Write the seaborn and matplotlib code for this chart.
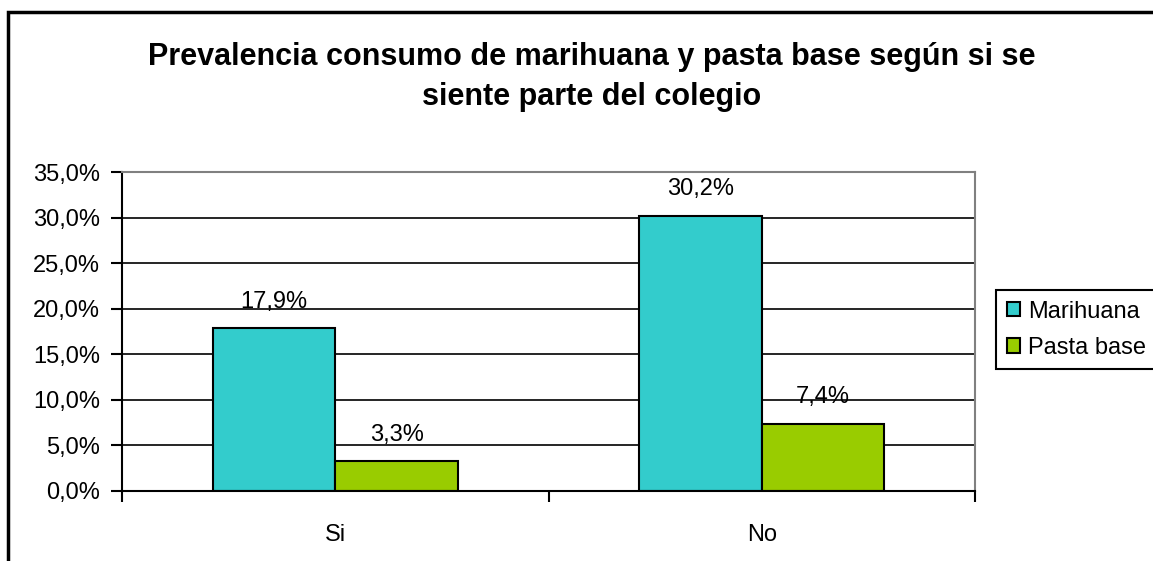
import pandas as pd
import matplotlib
matplotlib.use("Agg")
import matplotlib.pyplot as plt
import seaborn as sns
from matplotlib.patches import Rectangle

categorias = ["Si", "No"]
series = ["Marihuana", "Pasta base"]
marihuana = [17.9, 30.2]
pasta_base = [3.3, 7.4]
colores = ["#33CCCC", "#99CC00"]
titulo = "Prevalencia consumo de marihuana y pasta base según si se\nsiente parte del colegio"

df = pd.DataFrame({
    "categoria": categorias * 2,
    "serie": [series[0]] * 2 + [series[1]] * 2,
    "valor": marihuana + pasta_base,
})

sns.set_style("white")
plt.rcParams["font.family"] = ["Liberation Sans", "DejaVu Sans"]
plt.rcParams["text.color"] = "black"
plt.rcParams["xtick.color"] = "black"
plt.rcParams["ytick.color"] = "black"

fig = plt.figure(figsize=(11.53, 5.61), dpi=100)
ax = fig.add_axes([122 / 1153, 1 - 491 / 561, (975 - 122) / 1153, (491 - 172) / 561])

sns.barplot(data=df, x="categoria", y="valor", hue="serie", order=categorias,
            hue_order=series, palette=colores, width=0.575, saturation=1,
            edgecolor="black", linewidth=1.5, ax=ax, legend=True)

for cont, vals in zip(ax.containers, [marihuana, pasta_base]):
    ax.bar_label(cont, labels=[f"{v:.1f}%".replace(".", ",") for v in vals],
                 padding=11, fontsize=17, color="black")

ax.set_ylim(0, 35)
ax.set_xlim(-0.5, 1.5)
ax.set_yticks(range(0, 36, 5))
ax.set_yticklabels([f"{v:.1f}%".replace(".", ",") for v in range(0, 36, 5)], fontsize=17)
ax.yaxis.grid(True, color="black", linewidth=1.2)
ax.set_axisbelow(True)
ax.tick_params(axis="y", length=8, width=1.5, color="black", pad=8, left=True)
ax.set_xticks([0, 1])
ax.set_xticklabels(categorias, fontsize=17)
ax.set_xticks([-0.5, 0.5, 1.5], minor=True)
ax.tick_params(axis="x", which="major", length=0, pad=24)
ax.tick_params(axis="x", which="minor", length=8, width=1.5, color="black", bottom=True)
ax.set_xlabel("")
ax.set_ylabel("")

for side in ["left", "bottom"]:
    ax.spines[side].set_color("black")
    ax.spines[side].set_linewidth(1.5)
for side in ["top", "right"]:
    ax.spines[side].set_color("#808080")
    ax.spines[side].set_linewidth(1.5)

handles, labels = ax.get_legend_handles_labels()
ax.get_legend().remove()
leg = fig.legend(handles, labels, loc="upper left", bbox_to_anchor=(996 / 1153, 1 - 290 / 561),
                 fontsize=17, frameon=True, fancybox=False, edgecolor="black", framealpha=1,
                 handlelength=0.55, handleheight=0.55, handletextpad=0.35,
                 borderpad=0.45, labelspacing=0.6, borderaxespad=0)
leg.get_frame().set_linewidth(1.5)

fig.text(592 / 1153, 1 - 77 / 561, titulo, ha="center", va="center",
         fontsize=22, fontweight="bold", linespacing=1.45)

fig.patches.append(Rectangle((8 / 1153, -0.1), 1.2, 1 - 12 / 561 + 0.1,
                             transform=fig.transFigure, fill=False,
                             edgecolor="black", linewidth=2.5))

fig.savefig("out.png", dpi=100, facecolor="white")
